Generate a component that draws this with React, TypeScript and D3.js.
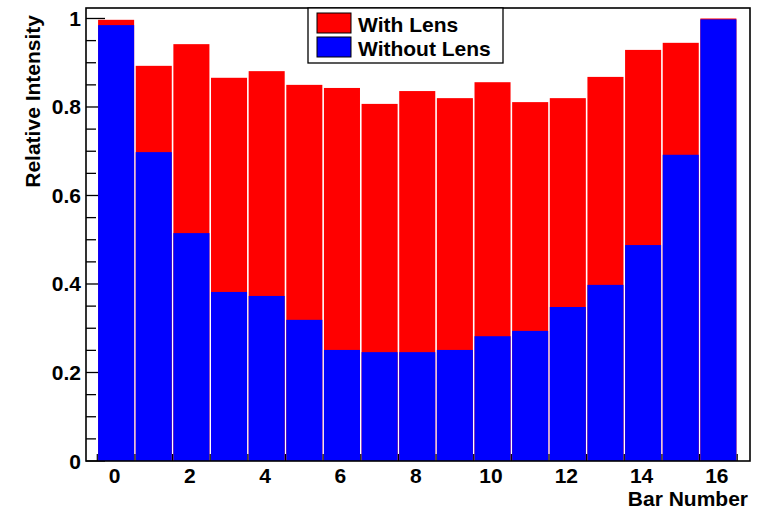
import React from "react";
import * as d3 from "d3";

const bars = d3.range(0, 17);
const withLens = [0.997, 0.893, 0.942, 0.866, 0.881, 0.85, 0.843, 0.807, 0.836, 0.82, 0.856, 0.811, 0.82, 0.868, 0.929, 0.945, 1.0];
const withoutLens = [0.985, 0.698, 0.515, 0.382, 0.373, 0.319, 0.251, 0.246, 0.246, 0.251, 0.282, 0.294, 0.348, 0.398, 0.488, 0.692, 0.998];
const xTicks = [0, 2, 4, 6, 8, 10, 12, 14, 16];
const yTicks = [0, 0.2, 0.4, 0.6, 0.8, 1];
const legendItems = [
  { label: "With Lens", color: "#ff0000" },
  { label: "Without Lens", color: "#0000ff" },
];

const W = 757, H = 509;
const L = 86, R = 750, T = 8, B = 461;

export default function App() {
  const x = d3.scaleLinear().domain([-0.8, 16.84]).range([L, R]);
  const y = d3.scaleLinear().domain([0, 1.0237]).range([B, T]);
  const pitch = x(1) - x(0);
  const bw = pitch - 1.6;
  const minor = d3.range(0, 1.0001, 0.05).filter((v) => Math.round(v * 100) % 20 !== 0);
  const font = "'Liberation Sans', Arial, Helvetica, sans-serif";
  const fs = 21;
  return (
    <svg width={W} height={H} style={{ position: "absolute", left: 0, top: 0 }} fontFamily={font}>
      <rect x={0} y={0} width={W} height={H} fill="#fff" />
      {yTicks.map((v) => (
        <line key={"yt" + v} x1={L} x2={L + 19} y1={y(v)} y2={y(v)} stroke="#000" strokeWidth={1.3} />
      ))}
      {minor.map((v) => (
        <line key={"ym" + v} x1={L} x2={L + 10} y1={y(v)} y2={y(v)} stroke="#000" strokeWidth={1.3} />
      ))}
      {bars.map((b, i) => (
        <rect key={"r" + b} x={x(b) - bw / 2} width={bw} y={y(withLens[i])} height={y(0) - y(withLens[i])} fill="#ff0000" />
      ))}
      {bars.map((b, i) => (
        <rect key={"b" + b} x={x(b) - bw / 2} width={bw} y={y(withoutLens[i])} height={y(0) - y(withoutLens[i])} fill="#0000ff" />
      ))}
      {d3.range(-0.5, 17, 1).map((v) => (
        <line key={"xt" + v} x1={x(v)} x2={x(v)} y1={B} y2={B - 7} stroke="#000" strokeWidth={1.2} />
      ))}
      <rect x={L} y={T} width={R - L} height={B - T} fill="none" stroke="#000" strokeWidth={1.6} />
      {yTicks.map((v) => (
        <text key={"yl" + v} x={L - 5} y={y(v) + 7.5} textAnchor="end" fontSize={fs} fontWeight="bold">
          {v === 0 ? "0" : v === 1 ? "1" : d3.format(".1f")(v)}
        </text>
      ))}
      {xTicks.map((v) => (
        <text key={"xl" + v} x={x(v) - 1.5} y={483} textAnchor="middle" fontSize={fs} fontWeight="bold">
          {v}
        </text>
      ))}
      <text x={748} y={506} textAnchor="end" fontSize={fs} fontWeight="bold">Bar Number</text>
      <text transform={`translate(40,15) rotate(-90)`} textAnchor="end" fontSize={fs} fontWeight="bold">
        Relative Intensity
      </text>
      <rect x={308} y={8} width={195} height={55} fill="#fff" stroke="#000" strokeWidth={1.3} />
      {legendItems.map((d, i) => (
        <g key={d.label} transform={`translate(0, ${i * 24})`}>
          <rect x={317} y={13} width={34} height={20} fill={d.color} stroke="#000" strokeWidth={1} />
          <text x={358} y={32} fontSize={fs} fontWeight="bold">{d.label}</text>
        </g>
      ))}
    </svg>
  );
}
